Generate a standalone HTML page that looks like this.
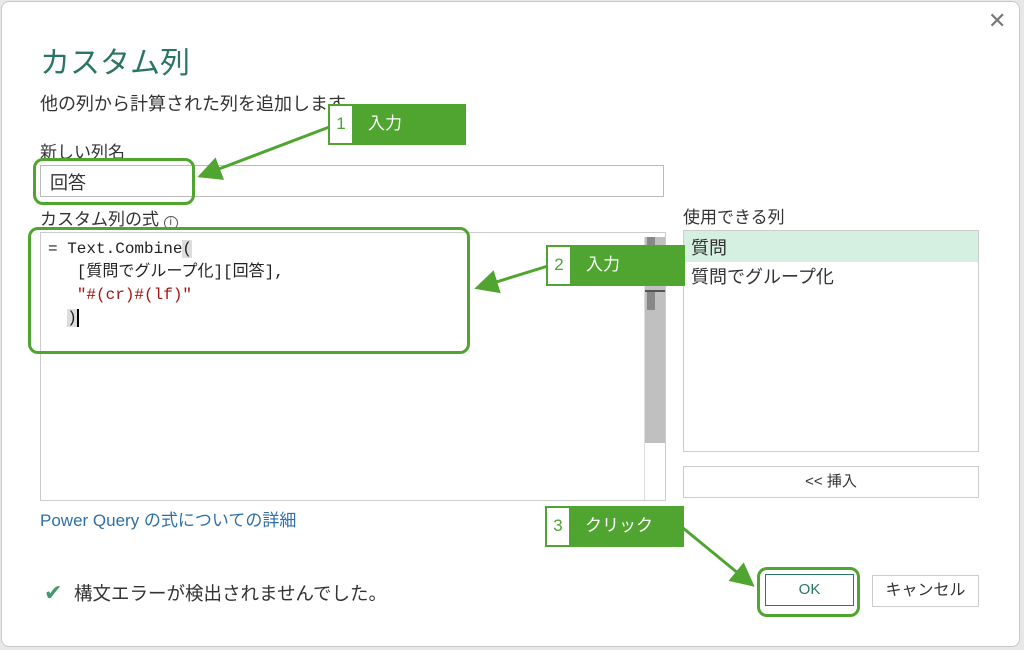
<!DOCTYPE html>
<html><head><meta charset="utf-8"><style>
*{margin:0;padding:0;box-sizing:border-box}
body{width:1024px;height:650px;background:#e8e8e8;position:relative;overflow:hidden;font-family:"Liberation Sans","Noto Sans CJK JP",sans-serif;color:#333}
.a{position:absolute}
.dlg{left:1px;top:1px;width:1019px;height:646px;background:#fff;border:1px solid #c8c8c8;border-radius:8px}
.mono{font-family:"Liberation Mono","Noto Sans CJK JP",monospace;font-size:16px;color:#222}
.lab{background:#4fa52f;border:2px solid #4fa52f;color:#fff;font-size:17px}
.lab .n{position:absolute;left:0;top:0;bottom:0;width:22px;background:#fff;color:#4fa52f;text-align:center;line-height:36px}
.lab .t{position:absolute;left:38px;top:0;line-height:36px}
.gr{border:3px solid #4fa52f;border-radius:10px}
</style></head><body>
<div class="a dlg"></div>
<div class="a" style="left:988px;top:8px;font-size:22px;color:#777">✕</div>
<div class="a" style="left:40px;top:38px;font-size:30px;color:#2a7565">カスタム列</div>
<div class="a" style="left:40px;top:90px;font-size:18px">他の列から計算された列を追加します</div>
<div class="a" style="left:40px;top:138px;font-size:17px">新しい列名</div>
<div class="a" style="left:40px;top:165px;width:624px;height:32px;border:1px solid #bbb"></div>
<div class="a" style="left:50px;top:169px;font-size:18px">回答</div>
<div class="a" style="left:40px;top:205px;font-size:17px">カスタム列の式 <span style="display:inline-block;width:14px;height:14px;border:1px solid #555;border-radius:50%;font-size:10px;text-align:center;line-height:12px">i</span></div>
<div class="a" style="left:40px;top:232px;width:626px;height:269px;border:1px solid #ccc"></div>
<div class="a" style="left:645px;top:237px;width:20px;height:206px;background:#c0c0c0"></div>
<div class="a" style="left:647px;top:237px;width:8px;height:10px;background:#888"></div>
<div class="a" style="left:645px;top:290px;width:20px;height:2px;background:#555"></div>
<div class="a" style="left:647px;top:292px;width:8px;height:18px;background:#888"></div>
<div class="a" style="left:644px;top:237px;width:1px;height:263px;background:#ddd"></div>
<div class="a mono" style="left:48px;top:238px;line-height:23px;white-space:pre">= Text.Combine<span style="background:#ddd">(</span>
   [質問でグループ化][回答],
   <span style="color:#a31515">"#(cr)#(lf)"</span>
  <span style="background:#ddd">)</span><span style="border-left:2px solid #000"></span></div>
<div class="a" style="left:683px;top:203px;font-size:17px">使用できる列</div>
<div class="a" style="left:683px;top:230px;width:296px;height:222px;border:1px solid #ccc"></div>
<div class="a" style="left:684px;top:231px;width:294px;height:31px;background:#d5efe1"></div>
<div class="a" style="left:691px;top:234px;font-size:18px">質問</div>
<div class="a" style="left:691px;top:263px;font-size:18px">質問でグループ化</div>
<div class="a" style="left:683px;top:466px;width:296px;height:32px;border:1px solid #ccc;text-align:center;line-height:30px;font-size:15px">&lt;&lt; 挿入</div>
<div class="a" style="left:40px;top:506px;font-size:17px;color:#2e6fa8">Power Query の式についての詳細</div>
<div class="a" style="left:44px;top:580px;font-size:22px;color:#3c9a6c">✔</div>
<div class="a" style="left:74px;top:580px;font-size:18.5px">構文エラーが検出されませんでした。</div>
<div class="a" style="left:765px;top:574px;width:89px;height:32px;border:1px solid #2a7565;text-align:center;line-height:30px;font-size:15px;color:#2a7565">OK</div>
<div class="a" style="left:872px;top:575px;width:107px;height:32px;border:1px solid #ccc;text-align:center;line-height:30px;font-size:16px">キャンセル</div>
<div class="a gr" style="left:33px;top:158px;width:162px;height:47px"></div>
<div class="a gr" style="left:28px;top:227px;width:442px;height:127px"></div>
<div class="a gr" style="left:757px;top:567px;width:103px;height:50px"></div>
<svg class="a" style="left:0;top:0" width="1024" height="650">
<defs><marker id="m" markerWidth="8" markerHeight="8" refX="6" refY="4" orient="auto"><path d="M0,0 L8,4 L0,8 z" fill="#4fa52f"/></marker></defs>
<g stroke="#4fa52f" stroke-width="3" fill="none" marker-end="url(#m)">
<line x1="332" y1="126" x2="203" y2="175"/>
<line x1="548" y1="266" x2="480" y2="287"/>
<line x1="683" y1="528" x2="750" y2="583"/>
</g></svg>
<div class="a lab" style="left:328px;top:104px;width:138px;height:41px"><div class="n">1</div><div class="t">入力</div></div>
<div class="a lab" style="left:546px;top:245px;width:139px;height:41px"><div class="n">2</div><div class="t">入力</div></div>
<div class="a lab" style="left:545px;top:506px;width:139px;height:41px"><div class="n">3</div><div class="t">クリック</div></div>
</body></html>
